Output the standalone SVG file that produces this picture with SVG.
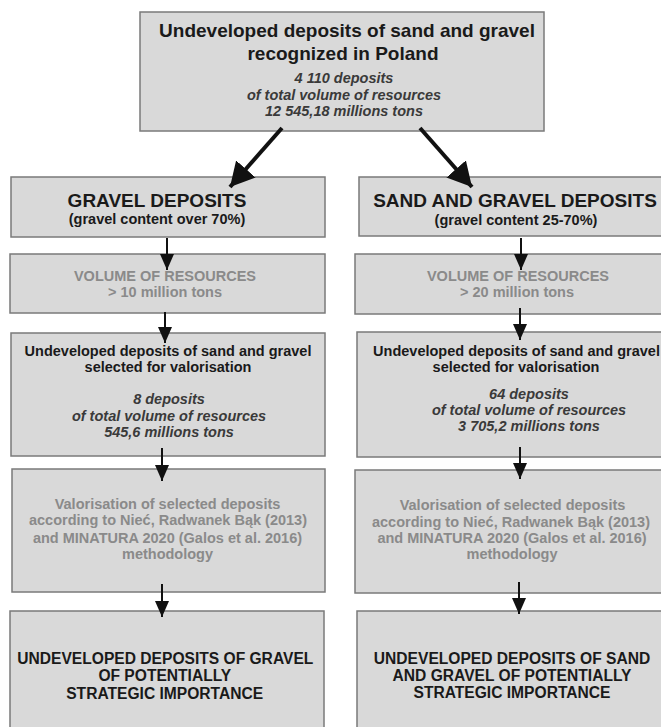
<svg xmlns="http://www.w3.org/2000/svg" width="661" height="727" viewBox="0 0 661 727">
<defs>
<style>
.box{fill:#d9d9d9;stroke:#7a7a7a;stroke-width:1.5}
text{font-family:"Liberation Sans",Arial,sans-serif;font-weight:bold;text-anchor:middle}
.h{font-size:19px;fill:#1a1a1a}
.b{font-size:14.5px;fill:#1a1a1a}
.i{font-size:14.5px;font-style:italic;fill:#3a3a3a}
.g{font-size:14.5px;fill:#8a8a8a}
.f{font-size:15.6px;fill:#1a1a1a}
.ln{stroke:#111;stroke-width:2;fill:none}
.lnb{stroke:#111;stroke-width:4;fill:none}
.hd{fill:#111}
</style>
<marker id="ah" viewBox="0 0 16 14" refX="16" refY="7" markerWidth="16" markerHeight="14" markerUnits="userSpaceOnUse" orient="auto"><path d="M0,0 L16,7 L0,14 Z" class="hd"/></marker>
<marker id="ahb" viewBox="0 0 24 26" refX="24" refY="13" markerWidth="24" markerHeight="26" markerUnits="userSpaceOnUse" orient="auto"><path d="M0,0 L24,13 L0,26 Z" class="hd"/></marker>
</defs>
<rect width="661" height="727" fill="#ffffff"/>

<g id="top">
<rect class="box" x="140" y="12" width="404" height="119"/>
<text class="h" x="347" y="37">Undeveloped deposits of sand and gravel</text>
<text class="h" x="343" y="60">recognized in Poland</text>
<text class="i" x="344" y="83">4 110 deposits</text>
<text class="i" x="344" y="100">of total volume of resources</text>
<text class="i" x="344" y="116">12 545,18 millions tons</text>
</g>

<g id="gravel">
<rect class="box" x="11" y="177" width="314" height="60"/>
<text class="h" x="157" y="207">GRAVEL DEPOSITS</text>
<text class="b" x="157" y="224">(gravel content over 70%)</text>
</g>

<g id="sandgravel">
<rect class="box" x="359" y="177" width="320" height="59"/>
<text class="h" x="515" y="207">SAND AND GRAVEL DEPOSITS</text>
<text class="b" x="516" y="225">(gravel content 25-70%)</text>
</g>

<g id="volL">
<rect class="box" x="10" y="254" width="315" height="59"/>
<text class="g" x="165" y="281">VOLUME OF RESOURCES</text>
<text class="g" x="165" y="297">&gt; 10 million tons</text>
</g>

<g id="volR">
<rect class="box" x="355" y="254" width="324" height="60"/>
<text class="g" x="518" y="281">VOLUME OF RESOURCES</text>
<text class="g" x="517" y="297">&gt; 20 million tons</text>
</g>

<g id="selL">
<rect class="box" x="11" y="333" width="314" height="123"/>
<text class="b" x="168" y="356">Undeveloped deposits of sand and gravel</text>
<text class="b" x="168" y="372">selected for valorisation</text>
<text class="i" x="169" y="404">8 deposits</text>
<text class="i" x="169" y="420.5">of total volume of resources</text>
<text class="i" x="169" y="436.5">545,6 millions tons</text>
</g>

<g id="selR">
<rect class="box" x="357" y="332" width="322" height="125"/>
<text class="b" x="516.5" y="356">Undeveloped deposits of sand and gravel</text>
<text class="b" x="516" y="372">selected for valorisation</text>
<text class="i" x="529" y="399">64 deposits</text>
<text class="i" x="529" y="415">of total volume of resources</text>
<text class="i" x="529" y="431">3 705,2 millions tons</text>
</g>

<g id="valL">
<rect class="box" x="12" y="469" width="313" height="123"/>
<text class="g" x="167.5" y="509">Valorisation of selected deposits</text>
<text class="g" x="168" y="525">according to Nieć, Radwanek Bąk (2013)</text>
<text class="g" x="167.5" y="542.5">and MINATURA 2020 (Galos et al. 2016)</text>
<text class="g" x="167.5" y="558.5">methodology</text>
</g>

<g id="valR">
<rect class="box" x="355" y="470" width="324" height="123"/>
<text class="g" x="512.5" y="510">Valorisation of selected deposits</text>
<text class="g" x="511" y="526.5">according to Nieć, Radwanek Bąk (2013)</text>
<text class="g" x="512" y="542.5">and MINATURA 2020 (Galos et al. 2016)</text>
<text class="g" x="512" y="558.5">methodology</text>
</g>

<g id="finL">
<rect class="box" x="10" y="611" width="314" height="130"/>
<text class="f" x="165.3" y="663.5">UNDEVELOPED DEPOSITS OF GRAVEL</text>
<text class="f" x="164.8" y="681">OF POTENTIALLY</text>
<text class="f" x="164.7" y="698.5">STRATEGIC IMPORTANCE</text>
</g>

<g id="finR">
<rect class="box" x="357" y="611" width="322" height="130"/>
<text class="f" x="512" y="663.5">UNDEVELOPED DEPOSITS OF SAND</text>
<text class="f" x="512" y="681">AND GRAVEL OF POTENTIALLY</text>
<text class="f" x="512" y="698">STRATEGIC IMPORTANCE</text>
</g>

<g id="connectors">
<line class="lnb" x1="282" y1="128" x2="230" y2="187" marker-end="url(#ahb)"/>
<line class="lnb" x1="420" y1="128" x2="472" y2="187" marker-end="url(#ahb)"/>
<line class="ln" x1="167" y1="238" x2="167" y2="270" marker-end="url(#ah)"/>
<line class="ln" x1="521" y1="238" x2="521" y2="270" marker-end="url(#ah)"/>
<line class="ln" x1="165" y1="312" x2="165" y2="343" marker-end="url(#ah)"/>
<line class="ln" x1="520" y1="308" x2="520" y2="340" marker-end="url(#ah)"/>
<line class="ln" x1="162" y1="448" x2="162" y2="481" marker-end="url(#ah)"/>
<line class="ln" x1="520" y1="447" x2="520" y2="479" marker-end="url(#ah)"/>
<line class="ln" x1="162" y1="584" x2="162" y2="617" marker-end="url(#ah)"/>
<line class="ln" x1="519" y1="582" x2="519" y2="614" marker-end="url(#ah)"/>
</g>
</svg>
